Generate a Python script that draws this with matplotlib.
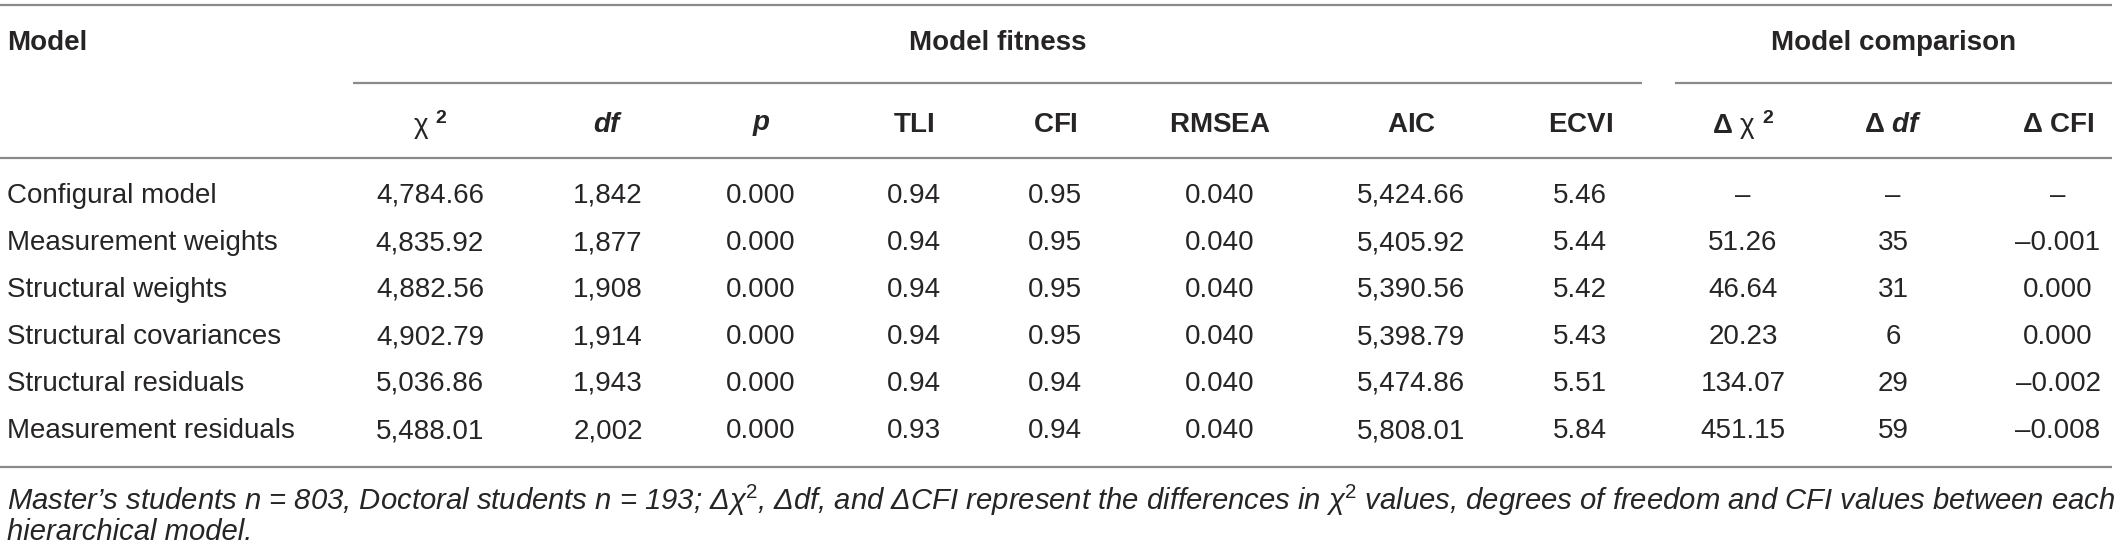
import matplotlib
matplotlib.use("Agg")
import matplotlib.pyplot as plt

# ---------------- data ----------------
models = ["Configural model", "Measurement weights", "Structural weights",
          "Structural covariances", "Structural residuals", "Measurement residuals"]
chi2 = [4784.66, 4835.92, 4882.56, 4902.79, 5036.86, 5488.01]
dfs = [1842, 1877, 1908, 1914, 1943, 2002]
pvals = [0.000, 0.000, 0.000, 0.000, 0.000, 0.000]
tli = [0.94, 0.94, 0.94, 0.94, 0.94, 0.93]
cfi = [0.95, 0.95, 0.95, 0.95, 0.94, 0.94]
rmsea = [0.040, 0.040, 0.040, 0.040, 0.040, 0.040]
aic = [5424.66, 5405.92, 5390.56, 5398.79, 5474.86, 5808.01]
ecvi = [5.46, 5.44, 5.42, 5.43, 5.51, 5.84]
d_chi2 = [None, 51.26, 46.64, 20.23, 134.07, 451.15]
d_df = [None, 35, 31, 6, 29, 59]
d_cfi = [None, -0.001, 0.000, 0.000, -0.002, -0.008]

group_labels = ["Model fitness", "Model comparison"]
col_headers = [r"χ $^{\mathbf{2}}$", r"$\mathbfit{df}$", r"$\mathbfit{p}$",
               r"$\mathbf{TLI}$", r"$\mathbf{CFI}$", r"$\mathbf{RMSEA}$",
               r"$\mathbf{AIC}$", r"$\mathbf{ECVI}$",
               r"$\mathbf{Δ}$ χ $^{\mathbf{2}}$", r"$\mathbf{Δ}$ $\mathbfit{df}$",
               r"$\mathbf{Δ\ CFI}$"]
footnote_1 = (r"Master’s students $\mathit{n}$ = 803, Doctoral students $\mathit{n}$ = 193; "
              r"Δχ$^2$, Δdf, and ΔCFI represent the differences in χ$^2$ values, "
              r"degrees of freedom and CFI values between each")
footnote_2 = "hierarchical model."

# ---------------- style ----------------
plt.rcParams["font.family"] = ["Liberation Sans", "DejaVu Sans"]
plt.rcParams["mathtext.fontset"] = "custom"
plt.rcParams["mathtext.rm"] = "Liberation Sans"
plt.rcParams["mathtext.it"] = "Liberation Sans:italic"
plt.rcParams["mathtext.bf"] = "Liberation Sans:bold"
plt.rcParams["mathtext.bfit"] = "Liberation Sans:bold:italic"

TXT = "#262425"
LINE = "#8a8a8a"
FS = 20

W, H = 2118, 553
fig = plt.figure(figsize=(W / 100, H / 100), dpi=100)
ax = fig.add_axes([0, 0, 1, 1])
ax.set_xlim(0, W)
ax.set_ylim(H, 0)
ax.axis("off")

col_x = [430, 608, 761, 914, 1055, 1220, 1411, 1580, 1743, 1893, 2058]
left_x = 7
y_top, y_group, y_sub, y_head, y_hline = 5, 43, 83, 125, 158
row_y0, row_dy = 196, 47
y_bottom = 467
y_fn1, y_fn2 = 500, 532
fn_right = 2110


def fmt_thousands(v):
    return f"{v:,.2f}"


def fmt_signed(v, nd):
    if v is None:
        return "–"
    s = f"{abs(v):.{nd}f}"
    return ("–" + s) if v < 0 else s


def opt(v, f):
    return "–" if v is None else f(v)


columns = [
    [fmt_thousands(v) for v in chi2],
    [f"{v:,d}" for v in dfs],
    [f"{v:.3f}" for v in pvals],
    [f"{v:.2f}" for v in tli],
    [f"{v:.2f}" for v in cfi],
    [f"{v:.3f}" for v in rmsea],
    [fmt_thousands(v) for v in aic],
    [f"{v:.2f}" for v in ecvi],
    [opt(v, lambda x: f"{x:.2f}") for v in d_chi2],
    [opt(v, lambda x: f"{x:d}") for v in d_df],
    [fmt_signed(v, 3) for v in d_cfi],
]

# rules
for xa, xb, y in [(0, W - 6, y_top), (353, 1642, y_sub), (1675, W - 6, y_sub),
                  (0, W - 6, y_hline), (0, W - 6, y_bottom)]:
    ax.plot([xa, xb], [y, y], color=LINE, lw=1.6, solid_capstyle="butt")

# headers
ax.text(left_x, y_group, "Model", ha="left", va="center", fontsize=FS,
        fontweight="bold", color=TXT)
ax.text((353 + 1642) / 2, y_group, group_labels[0], ha="center", va="center",
        fontsize=FS, fontweight="bold", color=TXT)
ax.text((1675 + W - 6) / 2, y_group, group_labels[1], ha="center", va="center",
        fontsize=FS, fontweight="bold", color=TXT)
for x, h in zip(col_x, col_headers):
    ax.text(x, y_head, h, ha="center", va="center", fontsize=FS, color=TXT)

# body
for i, m in enumerate(models):
    y = row_y0 + i * row_dy
    ax.text(left_x, y, m, ha="left", va="center", fontsize=FS, color=TXT)
    for x, col in zip(col_x, columns):
        ax.text(x, y, col[i], ha="center", va="center", fontsize=FS, color=TXT)

# footnote (fit first line to the table width)
fn1 = ax.text(left_x, y_fn1, footnote_1, ha="left", va="center", fontsize=FS,
              style="italic", color=TXT)
renderer = fig.canvas.get_renderer()
bb = fn1.get_window_extent(renderer=renderer)
target = fn_right - left_x
fs_fn = FS * target / bb.width
fn1.set_fontsize(fs_fn)
ax.text(left_x, y_fn2, footnote_2, ha="left", va="center", fontsize=fs_fn,
        style="italic", color=TXT)

fig.savefig("out.png", dpi=100, facecolor="white")
